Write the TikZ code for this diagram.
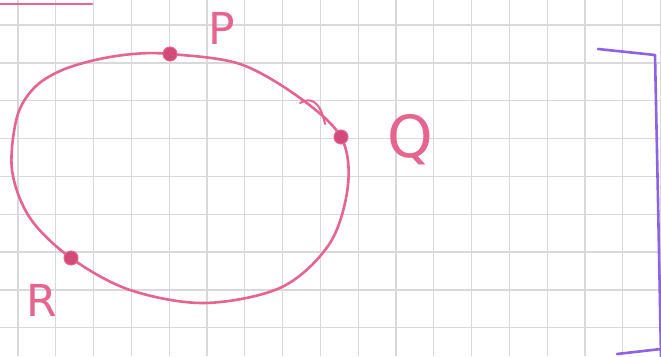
\documentclass[tikz,border=0pt]{standalone}
\usepackage{fontspec}
\setsansfont{DejaVu Sans}
\begin{document}
\begin{tikzpicture}[x=1pt,y=-1pt,
  gridline/.style={draw=gray!30,line width=1.3pt},
  pinkline/.style={draw=pinkink,line width=2.6pt,line cap=round},
  purpleline/.style={draw=purpleink,line width=2.6pt,line cap=round,line join=round},
  dotmark/.style={circle,fill=dotink,draw=pinkink,line width=1pt,inner sep=0pt,minimum size=14pt},
  letter/.style={text=pinkink,font=\fontsize{44}{44}\selectfont\sffamily\mdseries,inner sep=0pt}]
\definecolor{pinkink}{HTML}{E5658F}
\definecolor{dotink}{HTML}{D24A78}
\definecolor{purpleink}{HTML}{8E63E3}
\useasboundingbox (0,0) rectangle (661,356);
\fill[white] (0,0) rectangle (661,356);
\foreach \i in {0,...,17} \draw[gridline] ({18+37.8*\i},0) -- ({18+37.8*\i},356);
\foreach \j in {0,...,8} \draw[gridline] (0,{25+37.85*\j}) -- (661,{25+37.85*\j});
% top-left stroke
\coordinate (tl1) at (0,4);
\coordinate (tl2) at (92,4);
\draw[pinkline] (tl1) -- (tl2);
% closed curve
\draw[pinkline] plot[smooth cycle, tension=0.55] coordinates {
  (170,54) (240,64) (300,98) (341,137) (348,185) (330,243) (282,287)
  (205,303) (130,290) (71,258) (30,218) (12,170) (17,117) (34,88) (60,71) (95,60) (133,54)};
% small hook near Q
\draw[pinkline,line width=2pt] (300,103) .. controls (310,97) and (320,100) .. (325,124);
% points
\node[dotmark] (P) at (170,54) {};
\node[dotmark] (Q) at (341,137) {};
\node[dotmark] (R) at (71,258) {};
% labels
\node[letter] (Plab) at (222,28) {P};
\node[letter,font=\fontsize{58}{58}\selectfont\sffamily] (Qlab) at (410,140) {Q};
\node[letter] (Rlab) at (42,300) {R};
% purple bracket
\coordinate (b1) at (598,49);
\coordinate (b2) at (655,55);
\coordinate (b3) at (658,200);
\coordinate (b4) at (661,356);
\coordinate (c1) at (617,354);
\coordinate (c2) at (661,349);
\draw[purpleline] (b1) -- (b2) -- (b3) -- (b4);
\draw[purpleline] (c1) -- (c2);
\end{tikzpicture}
\end{document}
